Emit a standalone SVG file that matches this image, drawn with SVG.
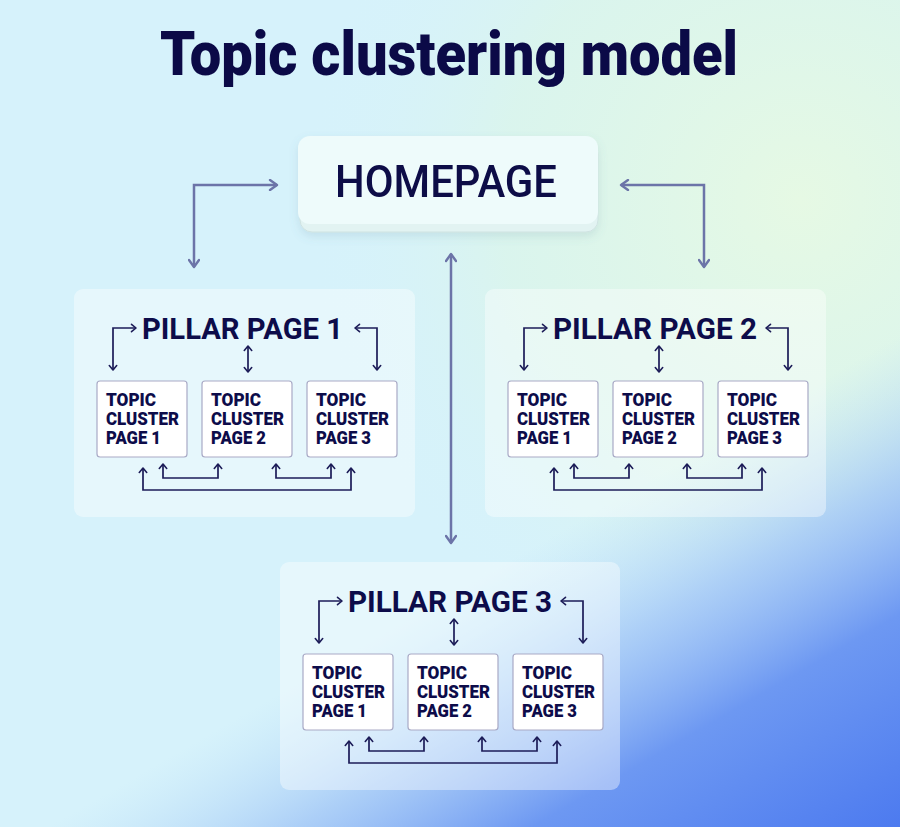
<svg xmlns="http://www.w3.org/2000/svg" width="900" height="827" viewBox="0 0 900 827">
  <defs>
    <radialGradient id="greenGlow" gradientUnits="userSpaceOnUse" cx="800" cy="200" r="500">
      <stop offset="0" stop-color="#e6f9e4" stop-opacity="1"/>
      <stop offset="0.6" stop-color="#dcf6e6" stop-opacity="0.65"/>
      <stop offset="1" stop-color="#d6f2fb" stop-opacity="0"/>
    </radialGradient>
    <linearGradient id="blueSweep" gradientUnits="userSpaceOnUse" x1="370" y1="641" x2="590" y2="1022">
      <stop offset="0" stop-color="#b9dcf8" stop-opacity="0"/>
      <stop offset="0.28" stop-color="#9fc4f6" stop-opacity="0.75"/>
      <stop offset="0.55" stop-color="#6d98f2" stop-opacity="1"/>
      <stop offset="1" stop-color="#4a78ef" stop-opacity="1"/>
    </linearGradient>
    <filter id="softShadow" x="-20%" y="-30%" width="140%" height="170%">
      <feDropShadow dx="0" dy="4" stdDeviation="5" flood-color="#5a7f9a" flood-opacity="0.16"/>
    </filter>
    <marker id="hArr" viewBox="0 0 12 12" refX="10" refY="6" markerWidth="12" markerHeight="12" markerUnits="userSpaceOnUse" orient="auto-start-reverse">
      <path d="M3,1 L10,6 L3,11" fill="none" stroke="#6c74a8" stroke-width="2.4" stroke-linecap="round" stroke-linejoin="round"/>
    </marker>
    <marker id="pArr" viewBox="0 0 10 10" refX="8.5" refY="5" markerWidth="10" markerHeight="10" markerUnits="userSpaceOnUse" orient="auto-start-reverse">
      <path d="M4,1.3 L8.5,5 L4,8.7" fill="none" stroke="#1c1c58" stroke-width="1.6" stroke-linecap="round" stroke-linejoin="round"/>
    </marker>
  </defs>
  <style>
    .title { font-family: Roboto, "Liberation Sans", sans-serif; font-weight: 900; font-size: 62px; fill: #0b0a47; }
    .home { font-family: Roboto, "Liberation Sans", sans-serif; font-weight: 500; font-size: 45px; fill: #0b0a47; }
    .pillarT { font-family: Roboto, "Liberation Sans", sans-serif; font-weight: 700; font-size: 29.5px; fill: #0d0c4a; }
    .tc { font-family: Roboto, "Liberation Sans", sans-serif; font-weight: 900; font-size: 17.5px; fill: #0d0c4a; }
    .panel { fill: #ffffff; fill-opacity: 0.4; }
    .tbox { fill: #ffffff; stroke: #a9aac6; stroke-width: 1.2; }
    .hline { fill: none; stroke: #6c74a8; stroke-width: 2.5; marker-start: url(#hArr); marker-end: url(#hArr); }
    .pline { fill: none; stroke: #1c1c58; stroke-width: 1.7; marker-start: url(#pArr); marker-end: url(#pArr); }
  </style>

  <!-- background -->
  <rect x="0" y="0" width="900" height="827" fill="#d6f2fb"/>
  <rect x="0" y="0" width="900" height="827" fill="url(#greenGlow)"/>
  <rect x="0" y="0" width="900" height="827" fill="url(#blueSweep)"/>

  <g id="title">
    <text class="title" x="160" y="75" textLength="578" lengthAdjust="spacingAndGlyphs">Topic clustering model</text>
  </g>

  <g id="homepage" filter="url(#softShadow)">
    <rect x="300" y="142" width="298" height="90" rx="12" fill="#e2f3f2" stroke="#cfe3e2" stroke-width="1"/>
    <rect x="298" y="136" width="300" height="88" rx="12" fill="#eefbfb"/>
    <text class="home" x="335" y="197" textLength="222" lengthAdjust="spacingAndGlyphs">HOMEPAGE</text>
  </g>

  <!-- Pillar 1 -->
  <g id="pillar1">
    <rect class="panel" x="74" y="289" width="341" height="228" rx="9"/>
    <text class="pillarT" x="142" y="339" textLength="201" lengthAdjust="spacingAndGlyphs">PILLAR PAGE 1</text>
    <g id="p1-topic1">
      <rect class="tbox" x="97" y="381" width="90" height="76" rx="3"/>
      <text class="tc"><tspan x="106" y="406" textLength="50" lengthAdjust="spacingAndGlyphs">TOPIC</tspan><tspan x="106" y="425" textLength="73" lengthAdjust="spacingAndGlyphs">CLUSTER</tspan><tspan x="106" y="444" textLength="55" lengthAdjust="spacingAndGlyphs">PAGE 1</tspan></text>
    </g>
    <g id="p1-topic2">
      <rect class="tbox" x="202" y="381" width="90" height="76" rx="3"/>
      <text class="tc"><tspan x="211" y="406" textLength="50" lengthAdjust="spacingAndGlyphs">TOPIC</tspan><tspan x="211" y="425" textLength="73" lengthAdjust="spacingAndGlyphs">CLUSTER</tspan><tspan x="211" y="444" textLength="55" lengthAdjust="spacingAndGlyphs">PAGE 2</tspan></text>
    </g>
    <g id="p1-topic3">
      <rect class="tbox" x="307" y="381" width="90" height="76" rx="3"/>
      <text class="tc"><tspan x="316" y="406" textLength="50" lengthAdjust="spacingAndGlyphs">TOPIC</tspan><tspan x="316" y="425" textLength="73" lengthAdjust="spacingAndGlyphs">CLUSTER</tspan><tspan x="316" y="444" textLength="55" lengthAdjust="spacingAndGlyphs">PAGE 3</tspan></text>
    </g>
  </g>

  <!-- Pillar 2 -->
  <g id="pillar2" transform="translate(411,0)">
    <rect class="panel" x="74" y="289" width="341" height="228" rx="9"/>
    <text class="pillarT" x="142" y="339" textLength="204" lengthAdjust="spacingAndGlyphs">PILLAR PAGE 2</text>
    <g id="p2-topic1">
      <rect class="tbox" x="97" y="381" width="90" height="76" rx="3"/>
      <text class="tc"><tspan x="106" y="406" textLength="50" lengthAdjust="spacingAndGlyphs">TOPIC</tspan><tspan x="106" y="425" textLength="73" lengthAdjust="spacingAndGlyphs">CLUSTER</tspan><tspan x="106" y="444" textLength="55" lengthAdjust="spacingAndGlyphs">PAGE 1</tspan></text>
    </g>
    <g id="p2-topic2">
      <rect class="tbox" x="202" y="381" width="90" height="76" rx="3"/>
      <text class="tc"><tspan x="211" y="406" textLength="50" lengthAdjust="spacingAndGlyphs">TOPIC</tspan><tspan x="211" y="425" textLength="73" lengthAdjust="spacingAndGlyphs">CLUSTER</tspan><tspan x="211" y="444" textLength="55" lengthAdjust="spacingAndGlyphs">PAGE 2</tspan></text>
    </g>
    <g id="p2-topic3">
      <rect class="tbox" x="307" y="381" width="90" height="76" rx="3"/>
      <text class="tc"><tspan x="316" y="406" textLength="50" lengthAdjust="spacingAndGlyphs">TOPIC</tspan><tspan x="316" y="425" textLength="73" lengthAdjust="spacingAndGlyphs">CLUSTER</tspan><tspan x="316" y="444" textLength="55" lengthAdjust="spacingAndGlyphs">PAGE 3</tspan></text>
    </g>
  </g>

  <!-- Pillar 3 -->
  <g id="pillar3" transform="translate(206,273)">
    <rect class="panel" x="74" y="289" width="340" height="228" rx="9"/>
    <text class="pillarT" x="142" y="339" textLength="204" lengthAdjust="spacingAndGlyphs">PILLAR PAGE 3</text>
    <g id="p3-topic1">
      <rect class="tbox" x="97" y="381" width="90" height="76" rx="3"/>
      <text class="tc"><tspan x="106" y="406" textLength="50" lengthAdjust="spacingAndGlyphs">TOPIC</tspan><tspan x="106" y="425" textLength="73" lengthAdjust="spacingAndGlyphs">CLUSTER</tspan><tspan x="106" y="444" textLength="55" lengthAdjust="spacingAndGlyphs">PAGE 1</tspan></text>
    </g>
    <g id="p3-topic2">
      <rect class="tbox" x="202" y="381" width="90" height="76" rx="3"/>
      <text class="tc"><tspan x="211" y="406" textLength="50" lengthAdjust="spacingAndGlyphs">TOPIC</tspan><tspan x="211" y="425" textLength="73" lengthAdjust="spacingAndGlyphs">CLUSTER</tspan><tspan x="211" y="444" textLength="55" lengthAdjust="spacingAndGlyphs">PAGE 2</tspan></text>
    </g>
    <g id="p3-topic3">
      <rect class="tbox" x="307" y="381" width="90" height="76" rx="3"/>
      <text class="tc"><tspan x="316" y="406" textLength="50" lengthAdjust="spacingAndGlyphs">TOPIC</tspan><tspan x="316" y="425" textLength="73" lengthAdjust="spacingAndGlyphs">CLUSTER</tspan><tspan x="316" y="444" textLength="55" lengthAdjust="spacingAndGlyphs">PAGE 3</tspan></text>
    </g>
  </g>

  <!-- connectors -->
  <g id="connectors">
    <path class="hline" d="M277,185 H194 V267"/>
    <path class="hline" d="M621,185 H704 V267"/>
    <path class="hline" d="M451,254 V543"/>
    <g id="pillar1-links">
      <path class="pline" d="M136,328 H113 V370"/>
      <path class="pline" d="M355,328 H377 V370"/>
      <path class="pline" d="M248,346 V372"/>
      <path class="pline" d="M143,468 V490 H351 V468"/>
      <path class="pline" d="M163,464 V478 H218 V464"/>
      <path class="pline" d="M276,464 V478 H331 V464"/>
    </g>
    <g id="pillar2-links" transform="translate(411,0)">
      <path class="pline" d="M136,328 H113 V370"/>
      <path class="pline" d="M355,328 H377 V370"/>
      <path class="pline" d="M248,346 V372"/>
      <path class="pline" d="M143,468 V490 H351 V468"/>
      <path class="pline" d="M163,464 V478 H218 V464"/>
      <path class="pline" d="M276,464 V478 H331 V464"/>
    </g>
    <g id="pillar3-links" transform="translate(206,273)">
      <path class="pline" d="M136,328 H113 V370"/>
      <path class="pline" d="M355,328 H377 V370"/>
      <path class="pline" d="M248,346 V372"/>
      <path class="pline" d="M143,468 V490 H351 V468"/>
      <path class="pline" d="M163,464 V478 H218 V464"/>
      <path class="pline" d="M276,464 V478 H331 V464"/>
    </g>
  </g>
</svg>
